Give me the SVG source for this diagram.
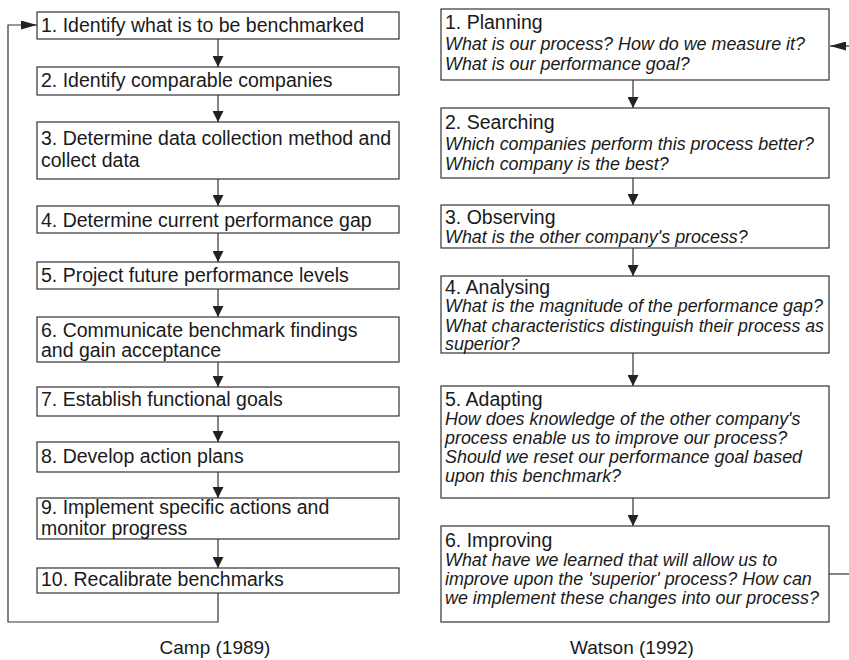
<svg xmlns="http://www.w3.org/2000/svg" width="849" height="660" viewBox="0 0 849 660">
<style>
.box{fill:#fff;stroke:#333;stroke-width:1.2}
.t{font-family:"Liberation Sans",Arial,Helvetica,sans-serif;fill:#1a1a1a}
.l{font-size:19.5px}
.h{font-size:19.5px}
.q{font-size:17.9px;font-style:italic}
.c{font-size:19px;text-anchor:middle}
.ln{fill:none;stroke:#333;stroke-width:1.2}
</style>
<defs>
<marker id="ah" markerUnits="userSpaceOnUse" markerWidth="11" markerHeight="11" refX="11" refY="5.5" orient="auto">
<path d="M0,0 L11,5.5 L0,11 z" fill="#222"/>
</marker>
<marker id="ahl" markerUnits="userSpaceOnUse" markerWidth="16" markerHeight="9" refX="16" refY="4.5" orient="auto">
<path d="M0,0 L16,4.5 L0,9 z" fill="#222"/>
</marker>
</defs>
<rect width="849" height="660" fill="#fff"/>

<g id="connectors">
<line class="ln" x1="218" y1="39" x2="218" y2="67" marker-end="url(#ah)"/>
<line class="ln" x1="218" y1="95" x2="218" y2="122" marker-end="url(#ah)"/>
<line class="ln" x1="218" y1="179" x2="218" y2="206" marker-end="url(#ah)"/>
<line class="ln" x1="218" y1="233" x2="218" y2="262" marker-end="url(#ah)"/>
<line class="ln" x1="218" y1="289" x2="218" y2="317" marker-end="url(#ah)"/>
<line class="ln" x1="218" y1="362" x2="218" y2="387" marker-end="url(#ah)"/>
<line class="ln" x1="218" y1="416" x2="218" y2="442" marker-end="url(#ah)"/>
<line class="ln" x1="218" y1="472" x2="218" y2="498" marker-end="url(#ah)"/>
<line class="ln" x1="218" y1="539" x2="218" y2="568" marker-end="url(#ah)"/>
<path class="ln" d="M218,593 V622 H8 V25 H37" marker-end="url(#ahl)"/>
<line class="ln" x1="633" y1="80" x2="633" y2="108" marker-end="url(#ah)"/>
<line class="ln" x1="633" y1="178" x2="633" y2="205" marker-end="url(#ah)"/>
<line class="ln" x1="633" y1="248" x2="633" y2="276" marker-end="url(#ah)"/>
<line class="ln" x1="633" y1="353" x2="633" y2="386" marker-end="url(#ah)"/>
<line class="ln" x1="633" y1="498" x2="633" y2="526" marker-end="url(#ah)"/>
<line class="ln" x1="829" y1="574" x2="849" y2="574"/>
<line class="ln" x1="849" y1="46" x2="830" y2="46" marker-end="url(#ahl)"/>
</g>

<g id="camp1"><rect class="box" x="37" y="12" width="362" height="27"/><text class="t l" x="41" y="32">1. Identify what is to be benchmarked</text></g>
<g id="camp2"><rect class="box" x="37" y="67" width="362" height="28"/><text class="t l" x="41" y="87">2. Identify comparable companies</text></g>
<g id="camp3"><rect class="box" x="37" y="122" width="362" height="57"/><text class="t l" x="41" y="145">3. Determine data collection method and</text><text class="t l" x="41" y="167">collect data</text></g>
<g id="camp4"><rect class="box" x="37" y="206" width="362" height="27"/><text class="t l" x="41" y="227">4. Determine current performance gap</text></g>
<g id="camp5"><rect class="box" x="37" y="262" width="362" height="27"/><text class="t l" x="41" y="282">5. Project future performance levels</text></g>
<g id="camp6"><rect class="box" x="37" y="317" width="362" height="45"/><text class="t l" x="41" y="337">6. Communicate benchmark findings</text><text class="t l" x="41" y="357">and gain acceptance</text></g>
<g id="camp7"><rect class="box" x="37" y="387" width="362" height="29"/><text class="t l" x="41" y="406">7. Establish functional goals</text></g>
<g id="camp8"><rect class="box" x="37" y="442" width="362" height="30"/><text class="t l" x="41" y="463">8. Develop action plans</text></g>
<g id="camp9"><rect class="box" x="37" y="498" width="362" height="41"/><text class="t l" x="41" y="514">9. Implement specific actions and</text><text class="t l" x="41" y="535">monitor progress</text></g>
<g id="camp10"><rect class="box" x="37" y="568" width="362" height="25"/><text class="t l" x="41" y="586">10. Recalibrate benchmarks</text></g>

<g id="watson1"><rect class="box" x="441" y="9" width="388" height="71"/>
<text class="t h" x="445" y="29">1. Planning</text>
<text class="t q" x="445" y="50">What is our process? How do we measure it?</text>
<text class="t q" x="445" y="70">What is our performance goal?</text></g>
<g id="watson2"><rect class="box" x="441" y="108" width="388" height="70"/>
<text class="t h" x="445" y="129">2. Searching</text>
<text class="t q" x="445" y="150">Which companies perform this process better?</text>
<text class="t q" x="445" y="170">Which company is the best?</text></g>
<g id="watson3"><rect class="box" x="441" y="205" width="388" height="43"/>
<text class="t h" x="445" y="224">3. Observing</text>
<text class="t q" x="445" y="243">What is the other company's process?</text></g>
<g id="watson4"><rect class="box" x="441" y="276" width="388" height="77"/>
<text class="t h" x="445" y="294">4. Analysing</text>
<text class="t q" x="445" y="312">What is the magnitude of the performance gap?</text>
<text class="t q" x="445" y="331.5" textLength="379" lengthAdjust="spacingAndGlyphs">What characteristics distinguish their process as</text>
<text class="t q" x="445" y="350">superior?</text></g>
<g id="watson5"><rect class="box" x="441" y="386" width="388" height="112"/>
<text class="t h" x="445" y="406">5. Adapting</text>
<text class="t q" x="445" y="425">How does knowledge of the other company's</text>
<text class="t q" x="445" y="444">process enable us to improve our process?</text>
<text class="t q" x="445" y="463">Should we reset our performance goal based</text>
<text class="t q" x="445" y="482">upon this benchmark?</text></g>
<g id="watson6"><rect class="box" x="441" y="526" width="388" height="96"/>
<text class="t h" x="445" y="547">6. Improving</text>
<text class="t q" x="445" y="566">What have we learned that will allow us to</text>
<text class="t q" x="445" y="585">improve upon the 'superior' process? How can</text>
<text class="t q" x="445" y="604">we implement these changes into our process?</text></g>

<g id="captions">
<text class="t c" x="215" y="654">Camp (1989)</text>
<text class="t c" x="632" y="654">Watson (1992)</text>
</g>
</svg>
